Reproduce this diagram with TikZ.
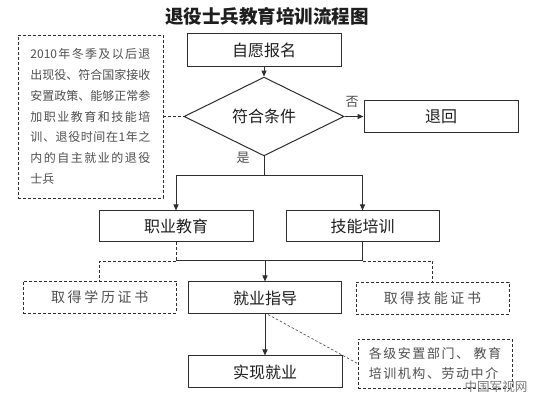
\documentclass[tikz,border=0pt]{standalone}
\usepackage{fontspec}
\setmainfont{Noto Sans CJK SC}
\newfontfamily\spacedA[LetterSpace=19]{Noto Sans CJK SC}
\newfontfamily\spacedB[LetterSpace=12]{Noto Sans CJK SC}
\usetikzlibrary{shapes.geometric,arrows.meta}
\definecolor{linec}{HTML}{2E2E2E}
\definecolor{txtc}{HTML}{1E1E1E}
\definecolor{graytxt}{HTML}{505050}
\definecolor{wmark}{HTML}{7A7A7A}
\def\jl#1{\makebox[120pt][s]{\jlx#1\relax}}
\def\jlx#1{#1\futurelet\jlnext\jly}
\def\jly{\ifx\jlnext\relax\expandafter\jlend\else\hfil\expandafter\jlx\fi}
\def\jlend\relax{}
\begin{document}
\begin{tikzpicture}[x=1pt,y=-1pt,
  solidbox/.style={draw=linec, line width=1pt, inner sep=0pt, text=txtc,
    font={\fontsize{16}{19}\selectfont}},
  dashbox/.style={draw=linec, line width=0.9pt, dash pattern=on 3pt off 2pt, inner sep=0pt,
    text=graytxt},
  arr/.style={draw=linec, line width=1pt, -{Triangle[length=6pt,width=5pt]}},
  conn/.style={draw=linec, line width=1pt},
  dsh/.style={draw=linec, line width=0.9pt, dash pattern=on 3pt off 2pt},
  thindsh/.style={draw=linec!80, line width=0.7pt, dash pattern=on 2.5pt off 2pt},
  lbl/.style={text=graytxt, font={\fontsize{13}{15}\selectfont}, inner sep=0pt}
]
\useasboundingbox[fill=white] (0,0) rectangle (547,411);

\node[text=txtc, font={\bfseries\fontsize{18.5}{21}\selectfont}, inner sep=0pt] (title) at (267,16.5) {退役士兵教育培训流程图};

\node[dashbox, minimum width=145pt, minimum height=163pt, align=left,
  font={\fontsize{12}{20.8}\selectfont}] (note) at (90.5,116.5)
  {\jl{{2010}年冬季及以后退}\\\jl{出现役、符合国家接收}\\\jl{安置政策、能够正常参}\\\jl{加职业教育和技能培}\\\jl{训、退役时间在1年之}\\\jl{内的自主就业的退役}\\士兵};

\node[solidbox, minimum width=154pt, minimum height=33pt] (apply) at (264,50.5) {自愿报名};
\node[solidbox, shape=diamond, minimum width=160pt, minimum height=50pt] (cond) at (264,116.5) {符合条件};
\node[solidbox, minimum width=154pt, minimum height=32pt] (reject) at (441,116.5) {退回};
\node[solidbox, minimum width=154pt, minimum height=31pt] (voc) at (176,226.5) {职业教育};
\node[solidbox, minimum width=153pt, minimum height=31pt] (skill) at (362.5,226.5) {技能培训};
\node[dashbox, minimum width=153.5pt, minimum height=32pt, font={\spacedA\fontsize{14}{17}\selectfont}] (cert1) at (99.75,297) {取得学历证书};
\node[solidbox, minimum width=153pt, minimum height=32pt] (guide) at (265,298) {就业指导};
\node[dashbox, minimum width=153pt, minimum height=32pt, font={\spacedA\fontsize{14}{17}\selectfont}] (cert2) at (432.5,298) {取得技能证书};
\node[solidbox, minimum width=154pt, minimum height=32pt] (job) at (265,372) {实现就业};
\node[dashbox, minimum width=154pt, minimum height=49pt, align=left, font={\spacedB\fontsize{13}{20}\selectfont}] (agency) at (435,363.5) {各级安置部门、 教育\\培训机构、劳动中介};

\node[lbl] (yes) at (243,158) {是};
\node[lbl] (no) at (352,102) {否};
\node[text=wmark, font={\fontsize{12.6}{15}\selectfont}, inner sep=0pt] (wm) at (496,387) {中国军视网};

\draw[arr] (apply.south) -- (cond.north);
\draw[arr] (cond.east) -- (reject.west);
\draw[dsh] (note.east) -- (cond.west);

\coordinate (br) at (264,176);
\draw[conn] (cond.south) -- (br);
\draw[arr] (br) -| (voc.north);
\draw[arr] (br) -| (skill.north);

\coordinate (jn) at (265,261);
\draw[dsh] (voc.south) -- (voc.south |- jn);
\draw[conn] (voc.south |- jn) -- (skill.south |- jn);
\draw[conn] (skill.south) -- (skill.south |- jn);
\draw[arr] (jn) -- (guide.north);
\draw[dsh] (voc.south |- jn) -| (cert1.north);
\draw[dsh] (skill.south |- jn) -| (cert2.north);

\draw[arr] (guide.south) -- (job.north);
\draw[thindsh] ([xshift=3pt]guide.south) -- (agency.west);
\end{tikzpicture}
\end{document}
